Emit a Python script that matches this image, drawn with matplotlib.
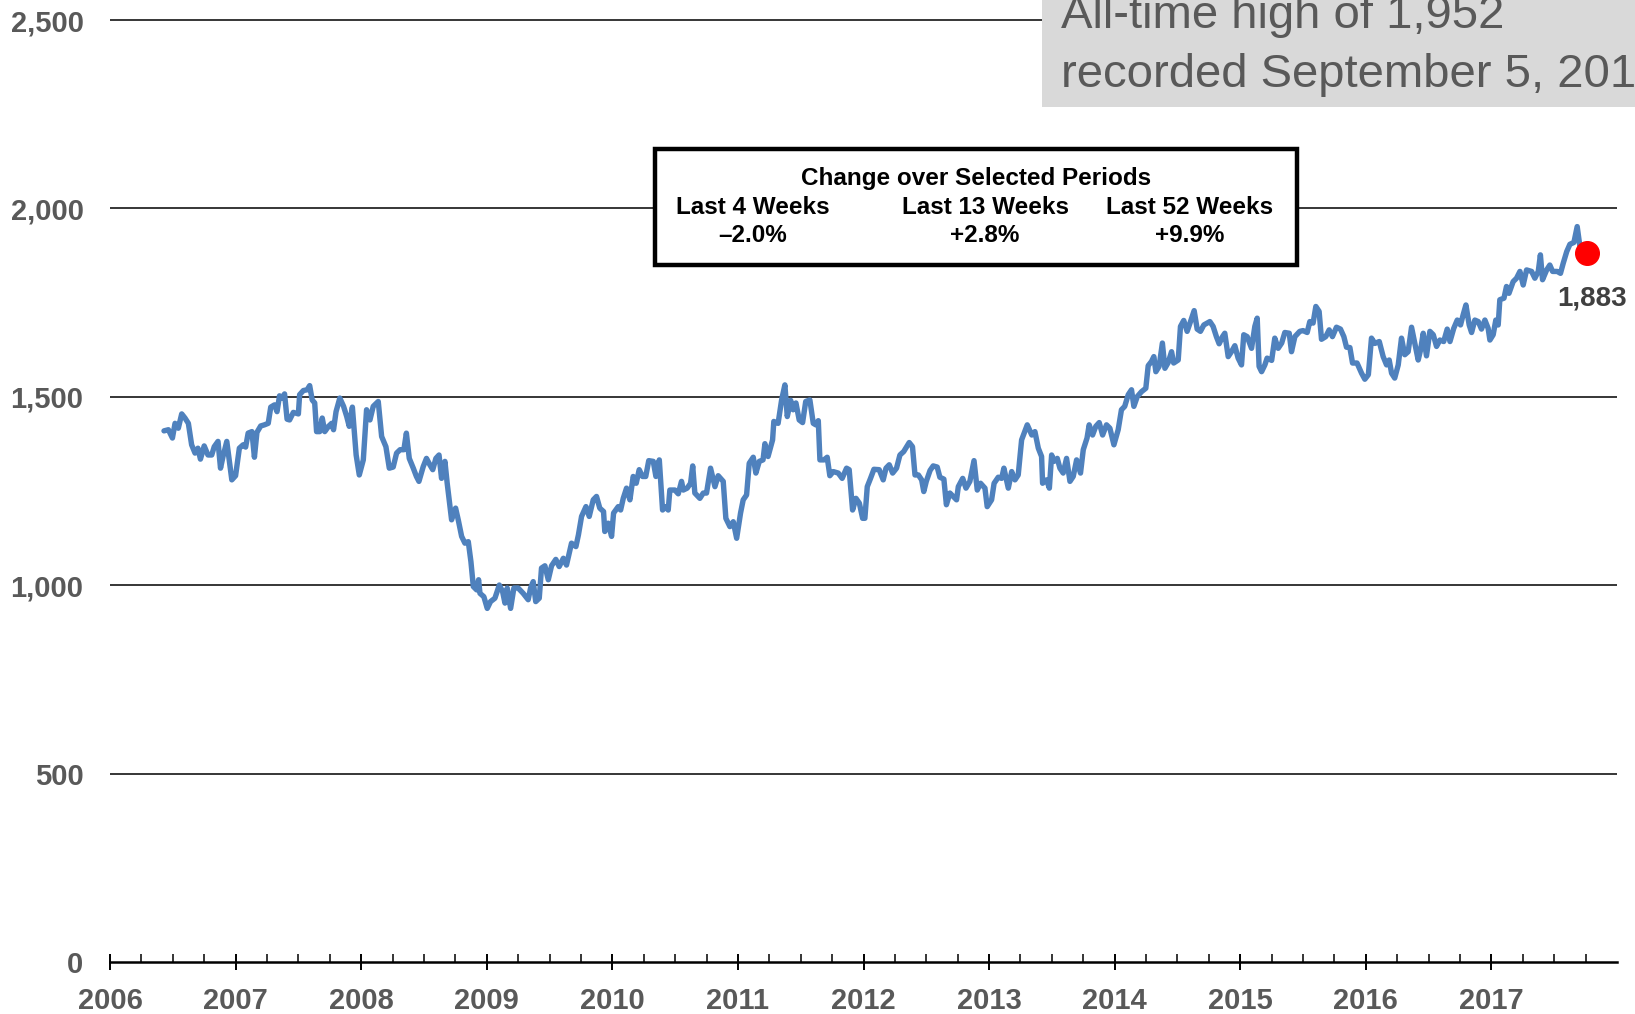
import matplotlib
matplotlib.use('Agg')
import matplotlib.pyplot as plt
from matplotlib import font_manager
from matplotlib.patches import Rectangle
from matplotlib.ticker import FixedLocator

### Data (decimal year, index level) ###

dates = [
    2006.43, 2006.465, 2006.497, 2006.518, 2006.544, 2006.571, 2006.597, 2006.624, 2006.65, 2006.677,
    2006.70, 2006.72, 2006.75, 2006.78, 2006.81, 2006.83, 2006.86, 2006.88, 2006.90, 2006.93,
    2006.97, 2007.00, 2007.03, 2007.06, 2007.08, 2007.10, 2007.13, 2007.15, 2007.17, 2007.20,
    2007.23, 2007.26, 2007.28, 2007.31, 2007.33, 2007.35, 2007.37, 2007.39, 2007.41, 2007.43,
    2007.46, 2007.50, 2007.51, 2007.54, 2007.57, 2007.59, 2007.61, 2007.63, 2007.645, 2007.67,
    2007.69, 2007.71, 2007.74, 2007.765, 2007.78, 2007.80, 2007.83, 2007.86, 2007.885, 2007.905,
    2007.93, 2007.96, 2007.985,
    2008.017, 2008.043, 2008.07, 2008.096, 2008.136, 2008.163, 2008.197, 2008.224, 2008.255, 2008.282,
    2008.31, 2008.34, 2008.36, 2008.383, 2008.415, 2008.44, 2008.46, 2008.494, 2008.52, 2008.547,
    2008.57, 2008.595, 2008.62, 2008.64, 2008.667, 2008.685, 2008.72, 2008.752, 2008.773, 2008.80,
    2008.826, 2008.853, 2008.874, 2008.893, 2008.92, 2008.935, 2008.946, 2008.977, 2009.004, 2009.03,
    2009.065, 2009.10, 2009.126, 2009.145, 2009.163, 2009.19, 2009.216, 2009.25, 2009.29, 2009.33,
    2009.349, 2009.37, 2009.39, 2009.418, 2009.436, 2009.463, 2009.49, 2009.516, 2009.55, 2009.577,
    2009.61, 2009.635, 2009.675, 2009.71, 2009.73, 2009.755, 2009.79, 2009.816, 2009.848, 2009.874,
    2009.90, 2009.93, 2009.94, 2009.967, 2009.994, 2010.01, 2010.047, 2010.066, 2010.087, 2010.113,
    2010.14, 2010.166, 2010.19, 2010.214, 2010.24, 2010.266, 2010.29, 2010.326, 2010.347, 2010.374,
    2010.40, 2010.426, 2010.445, 2010.458, 2010.498, 2010.525, 2010.551, 2010.565, 2010.596, 2010.623,
    2010.64, 2010.657, 2010.697, 2010.724, 2010.75, 2010.782, 2010.817, 2010.843, 2010.883, 2010.904,
    2010.936, 2010.963, 2010.99, 2011.021, 2011.042, 2011.069, 2011.09, 2011.122, 2011.143, 2011.17,
    2011.20, 2011.215, 2011.24, 2011.276, 2011.286, 2011.32, 2011.348, 2011.374, 2011.393, 2011.42,
    2011.44, 2011.462, 2011.488, 2011.515, 2011.54, 2011.573, 2011.60, 2011.62, 2011.64, 2011.653,
    2011.685, 2011.711, 2011.732, 2011.759, 2011.799, 2011.83, 2011.865, 2011.886,
    2011.913, 2011.94, 2011.967, 2011.993, 2012.011, 2012.03, 2012.056, 2012.083, 2012.125, 2012.157,
    2012.179, 2012.205, 2012.232, 2012.263, 2012.29, 2012.32, 2012.364, 2012.39, 2012.41, 2012.437,
    2012.463, 2012.48, 2012.50, 2012.53, 2012.555, 2012.587, 2012.608, 2012.64, 2012.66, 2012.688,
    2012.715, 2012.741, 2012.755, 2012.79, 2012.816, 2012.847, 2012.88, 2012.906, 2012.932, 2012.967,
    2012.985, 2013.02, 2013.04, 2013.073, 2013.10, 2013.118, 2013.153, 2013.18, 2013.206, 2013.232,
    2013.259, 2013.304, 2013.34, 2013.365, 2013.392, 2013.418, 2013.426, 2013.458, 2013.48, 2013.498,
    2013.516, 2013.543, 2013.564, 2013.59, 2013.617, 2013.644, 2013.67, 2013.697, 2013.728, 2013.75,
    2013.78, 2013.797, 2013.824, 2013.85, 2013.877, 2013.904, 2013.935, 2013.962, 2013.994,
    2014.028, 2014.054, 2014.08, 2014.108, 2014.134, 2014.153, 2014.18, 2014.214, 2014.248, 2014.267,
    2014.293, 2014.312, 2014.328, 2014.354, 2014.38, 2014.40, 2014.426, 2014.453, 2014.47, 2014.506,
    2014.524, 2014.55, 2014.577, 2014.604, 2014.633, 2014.657, 2014.683, 2014.71, 2014.758, 2014.784,
    2014.81, 2014.832, 2014.859, 2014.877, 2014.904, 2014.93, 2014.957, 2014.983, 2015.01, 2015.028,
    2015.055, 2015.09, 2015.116, 2015.135, 2015.15, 2015.17, 2015.196, 2015.214, 2015.25, 2015.275,
    2015.302, 2015.33, 2015.355, 2015.39, 2015.408, 2015.435, 2015.474, 2015.50, 2015.533, 2015.554,
    2015.58, 2015.602, 2015.628, 2015.647, 2015.681, 2015.708, 2015.734, 2015.766, 2015.798, 2015.825,
    2015.846,
    2015.873, 2015.894, 2015.93, 2015.966, 2015.992, 2016.02, 2016.045, 2016.072, 2016.107, 2016.138,
    2016.165, 2016.186, 2016.205, 2016.23, 2016.258, 2016.284, 2016.31, 2016.337, 2016.364, 2016.39,
    2016.417, 2016.436, 2016.457, 2016.483, 2016.51, 2016.537, 2016.563, 2016.59, 2016.62, 2016.648,
    2016.67, 2016.70, 2016.728, 2016.754, 2016.775, 2016.797, 2016.823, 2016.842, 2016.868, 2016.895,
    2016.921, 2016.948, 2016.974, 2016.988, 2017.014, 2017.035, 2017.054, 2017.067, 2017.10, 2017.12,
    2017.14, 2017.173, 2017.20, 2017.227, 2017.253, 2017.28, 2017.32, 2017.346, 2017.373, 2017.39,
    2017.407, 2017.44, 2017.465, 2017.487, 2017.524, 2017.55, 2017.572, 2017.60, 2017.625, 2017.657,
    2017.683, 2017.704, 2017.73, 2017.745, 2017.758,
]

values = [
    1410, 1413, 1391, 1430, 1417, 1455, 1444, 1430, 1373, 1351,
    1364, 1335, 1370, 1346, 1346, 1368, 1382, 1311, 1342, 1382,
    1280, 1291, 1364, 1373, 1367, 1404, 1408, 1340, 1406, 1423,
    1426, 1430, 1473, 1479, 1461, 1503, 1497, 1508, 1441, 1439,
    1459, 1455, 1506, 1517, 1519, 1530, 1492, 1484, 1408, 1408,
    1444, 1408, 1422, 1430, 1413, 1461, 1497, 1475, 1448, 1422,
    1473, 1346, 1293,
    1333, 1466, 1439, 1475, 1488, 1395, 1368, 1311, 1314, 1351,
    1360, 1360, 1404, 1337, 1311, 1289, 1276, 1315, 1337, 1320,
    1307, 1337, 1346, 1284, 1329, 1271, 1174, 1205, 1174, 1130,
    1112, 1116, 1063, 997, 988, 1015, 979, 970, 939, 957,
    966, 1001, 984, 953, 993, 939, 993, 993, 979, 962,
    993, 1010, 957, 966, 1046, 1052, 1015, 1052, 1069, 1050,
    1072, 1054, 1112, 1103, 1134, 1183, 1209, 1183, 1227, 1236,
    1205, 1196, 1143, 1165, 1130, 1192, 1209, 1200, 1231, 1258,
    1227, 1289, 1271, 1307, 1289, 1289, 1331, 1329, 1289, 1333,
    1200, 1209, 1200, 1253, 1253, 1243, 1276, 1253, 1258, 1271,
    1317, 1245, 1231, 1245, 1245, 1311, 1262, 1291, 1276, 1178,
    1156, 1169, 1125, 1192, 1227, 1240, 1324, 1340, 1298, 1329,
    1333, 1376, 1342, 1386, 1435, 1430, 1492, 1532, 1448, 1491,
    1466, 1484, 1439, 1432, 1488, 1492, 1430, 1426, 1437, 1333,
    1333, 1340, 1291, 1302, 1298, 1284, 1311, 1307,
    1200, 1231, 1218, 1178, 1178, 1262, 1284, 1308, 1307, 1280,
    1311, 1320, 1298, 1311, 1346, 1355, 1379, 1368, 1293, 1293,
    1280, 1249, 1276, 1305, 1317, 1314, 1287, 1282, 1214, 1245,
    1236, 1227, 1262, 1284, 1258, 1276, 1331, 1253, 1271, 1258,
    1209, 1227, 1271, 1287, 1284, 1311, 1258, 1302, 1280, 1293,
    1386, 1426, 1399, 1408, 1364, 1342, 1271, 1280, 1258, 1346,
    1329, 1337, 1311, 1298, 1337, 1276, 1289, 1333, 1298, 1360,
    1391, 1426, 1399, 1422, 1432, 1399, 1426, 1417, 1373,
    1413, 1466, 1475, 1506, 1519, 1475, 1501, 1514, 1523, 1583,
    1594, 1607, 1567, 1581, 1643, 1576, 1591, 1620, 1590, 1598,
    1687, 1703, 1674, 1700, 1729, 1680, 1674, 1691, 1700, 1687,
    1660, 1641, 1660, 1669, 1607, 1620, 1636, 1603, 1585, 1665,
    1660, 1629, 1687, 1709, 1581, 1567, 1585, 1603, 1597, 1656,
    1629, 1643, 1671, 1669, 1620, 1660, 1674, 1676, 1671, 1700,
    1696, 1740, 1727, 1653, 1660, 1678, 1660, 1685, 1680, 1660,
    1632,
    1631, 1590, 1590, 1563, 1547, 1559, 1656, 1642, 1647, 1607,
    1585, 1598, 1563, 1550, 1585, 1656, 1612, 1620, 1685, 1642,
    1598, 1625, 1669, 1609, 1674, 1665, 1634, 1651, 1647, 1680,
    1647, 1682, 1704, 1691, 1718, 1744, 1691, 1671, 1704, 1700,
    1680, 1704, 1682, 1651, 1665, 1704, 1691, 1758, 1762, 1793,
    1775, 1806, 1815, 1833, 1797, 1837, 1833, 1815, 1833, 1877,
    1811, 1837, 1850, 1833, 1833, 1828, 1855, 1886, 1905, 1910,
    1952, 1901, 1881, 1862, 1883,
]

year_ticks = list(range(2006, 2018))
quarter_ticks = [y + q / 4 for y in range(2006, 2018) for q in (1, 2, 3)]
level_ticks = [0, 500, 1000, 1500, 2000, 2500]

box_title = "Change over Selected Periods"
box_headers = ["Last 4 Weeks", "Last 13 Weeks", "Last 52 Weeks"]
box_changes = ["\u20132.0%", "+2.8%", "+9.9%"]
record_lines = ["All-time high of 1,952", "recorded September 5, 2017"]

### Fonts ###

names = {f.name for f in font_manager.fontManager.ttflist}
if 'Liberation Sans Narrow' in names:
    cond = 'Liberation Sans Narrow'
    tick_size, box_size = 24, 21
else:
    cond = 'Liberation Sans'
    tick_size, box_size = 21, 17.5
plt.rcParams['font.family'] = [cond, 'Liberation Sans', 'DejaVu Sans']

grey = '#595959'
W, H = 1635, 1014

fig = plt.figure(figsize=(W / 100, H / 100), dpi=100)
ax = fig.add_axes([110 / W, 1 - 962.3 / H, (1617 - 110) / W, (962.3 - 12.5) / H])
ax.set_xlim(2006, 2018)
ax.set_ylim(0, 2520)

for v in level_ticks[1:]:
    ax.axhline(v, color='black', lw=1.1, zorder=1)

ax.plot(dates, values, color='#4F81BD', lw=3.9, zorder=3,
        solid_joinstyle='round', solid_capstyle='round')
ax.plot(dates[-1], values[-1], 'o', color='red', ms=17, zorder=4)
ax.annotate(f"{values[-1]:,}", (dates[-1], values[-1]), xytext=(4, -33),
            textcoords='offset points', ha='center', va='center',
            fontsize=20, fontweight='bold', color='#404040', family='Liberation Sans')

for s in ['top', 'left', 'right']:
    ax.spines[s].set_visible(False)
ax.spines['bottom'].set_linewidth(1.8)

ax.set_xticks(year_ticks, labels=[str(y) for y in year_ticks],
              fontsize=tick_size, fontweight='bold', color=grey)
ax.xaxis.set_minor_locator(FixedLocator(quarter_ticks))
ax.set_yticks(level_ticks, labels=[f"{v:,}" for v in level_ticks],
              fontsize=tick_size, fontweight='bold', color=grey)
ax.tick_params(axis='x', which='major', direction='inout', length=12, width=1.4, pad=12)
ax.tick_params(axis='x', which='minor', direction='in', length=5.5, width=1.1)
ax.tick_params(axis='y', length=0, pad=19)

### Change box ###

fig.add_artist(Rectangle((655 / W, 1 - 265 / H), (1297 - 655) / W, (265 - 149) / H,
                         transform=fig.transFigure, fc='white', ec='black', lw=3.2, zorder=5))
fig.text(976 / W, 1 - 179 / H, box_title, ha='center', va='center',
         fontsize=box_size, fontweight='bold', zorder=6)
for cx, head, chg in zip([753, 985, 1190], box_headers, box_changes):
    fig.text(cx / W, 1 - 207 / H, head, ha='center', va='center',
             fontsize=box_size, fontweight='bold', zorder=6)
    fig.text(cx / W, 1 - 235 / H, chg, ha='center', va='center',
             fontsize=box_size, fontweight='bold', zorder=6)

### All-time high callout (cut off at the right edge, as in the source) ###

fig.add_artist(Rectangle((1042 / W, 1 - 107 / H), (W - 1042) / W, 110 / H,
                         transform=fig.transFigure, fc='#D9D9D9', lw=0, zorder=5))
for yb, line in zip([28, 87], record_lines):
    fig.text(1061 / W, 1 - yb / H, line, ha='left', va='baseline',
             fontsize=34, color=grey, family='Liberation Sans', zorder=6)

fig.savefig('out.png', dpi=100)
